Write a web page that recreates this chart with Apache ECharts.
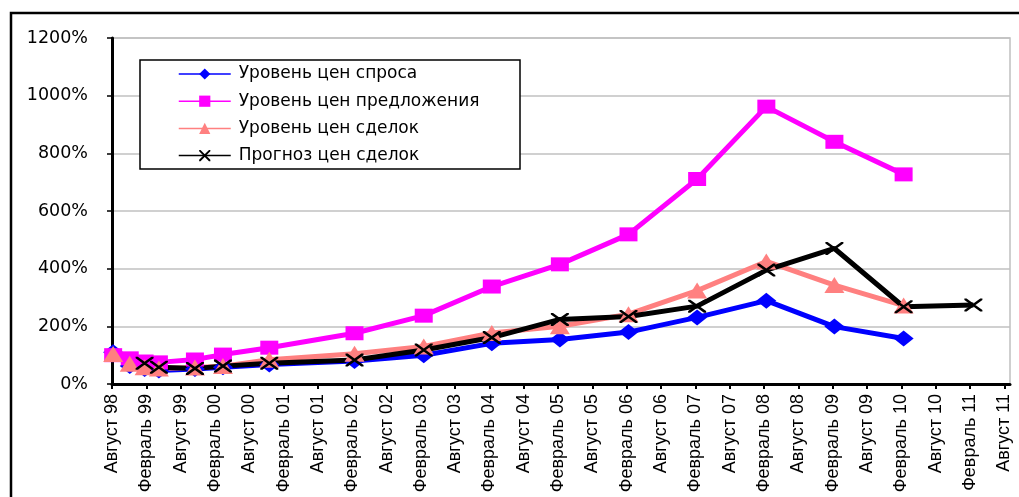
<!DOCTYPE html>
<html>
<head>
<meta charset="utf-8">
<script src="https://cdn.jsdelivr.net/npm/echarts@6/dist/echarts.min.js"></script>
<style>
  html, body { margin: 0; padding: 0; background: #ffffff; }
  #chart { width: 1019px; height: 497px; }
</style>
</head>
<body>
<div id="chart"></div>
<script>
// Semi-annual tick labels, August 1998 .. August 2011
const tickLabels = [
  'Август 98', 'Февраль 99', 'Август 99', 'Февраль 00', 'Август 00',
  'Февраль 01', 'Август 01', 'Февраль 02', 'Август 02', 'Февраль 03',
  'Август 03', 'Февраль 04', 'Август 04', 'Февраль 05', 'Август 05',
  'Февраль 06', 'Август 06', 'Февраль 07', 'Август 07', 'Февраль 08',
  'Август 08', 'Февраль 09', 'Август 09', 'Февраль 10', 'Август 10',
  'Февраль 11', 'Август 11'
];
const yTicks = [0, 200, 400, 600, 800, 1000, 1200];

// Observation dates, in months counted from August 1998
const monthsObserved = [0.2, 3.1, 5.7, 8.2, 14.5, 19.4, 27.5, 42.4, 54.5, 66.4, 78.3, 90.3, 102.3, 114.4, 126.3, 138.4];
const monthsForecast = [5.7, 8.2, 14.5, 19.4, 27.5, 42.4, 54.5, 66.4, 78.3, 90.3, 102.3, 114.4, 126.3, 138.4, 150.6];

// Price levels, % of August 1998
const demandLevel = [110, 62, 52, 47, 52, 58, 68, 80, 100, 141, 154, 180, 231, 289, 199, 158];
const offerLevel  = [100, 89, 78, 75, 85, 102, 126, 176, 237, 338, 415, 519, 711, 962, 840, 727];
const dealLevel   = [104, 70, 58, 54, 57, 62, 84, 105, 130, 177, 200, 242, 324, 425, 343, 272];
const dealForecast = [72, 58, 54, 62, 72, 83, 118, 161, 224, 234, 270, 395, 470, 268, 274];

const seriesNames = ['Уровень цен спроса', 'Уровень цен предложения', 'Уровень цен сделок', 'Прогноз цен сделок'];

const pairs = (xs, ys) => xs.map((x, i) => [x, ys[i]]);
const tickValues = tickLabels.map((_, i) => i * 6);

const crossSymbol = 'path://M0,0L1.2,0L10,8.8L10,10L8.8,10L0,1.2Z M8.8,0L10,0L10,1.2L1.2,10L0,10L0,8.8Z';

const chart = echarts.init(document.getElementById('chart'), null, { renderer: 'canvas' });

chart.setOption({
  animation: false,
  backgroundColor: '#ffffff',
  grid: {
    left: 112, top: 38, right: 9, bottom: 113,
    show: true, borderColor: '#c0c0c0', borderWidth: 1.5, backgroundColor: 'transparent'
  },
  xAxis: {
    type: 'value',
    min: 0,
    max: 157,
    axisLine: { show: true, lineStyle: { color: '#000', width: 3 } },
    axisTick: { show: true, length: 5, lineStyle: { color: '#000', width: 2 }, customValues: tickValues },
    splitLine: { show: false },
    axisLabel: {
      customValues: tickValues,
      rotate: 90,
      margin: 10,
      color: '#000',
      fontFamily: 'Liberation Sans, Arial, sans-serif',
      fontSize: 18,
      formatter: v => tickLabels[Math.round(v / 6)] || ''
    }
  },
  yAxis: {
    type: 'value',
    min: yTicks[0],
    max: yTicks[yTicks.length - 1],
    interval: 200,
    axisLine: { show: true, lineStyle: { color: '#000', width: 3 } },
    axisTick: { show: true, length: 5, lineStyle: { color: '#000', width: 1.5 } },
    splitLine: { show: true, lineStyle: { color: '#c0c0c0', width: 1.5 } },
    axisLabel: {
      margin: 24,
      color: '#000',
      fontFamily: 'DejaVu Sans, sans-serif',
      fontSize: 17.5,
      formatter: v => v + '%'
    }
  },
  legend: {
    orient: 'vertical',
    left: 140,
    top: 60,
    padding: [5, 10, 5, 38],
    itemGap: 9.2,
    itemWidth: 52,
    itemHeight: 14,
    z: 6,
    lineStyle: { width: 1.5 },
    textStyle: {
      color: '#000',
      fontFamily: 'DejaVu Sans, sans-serif',
      fontSize: 17,
      lineHeight: 18,
      padding: [0, 0, 0, 3]
    },
    data: seriesNames
  },
  graphic: [
    {
      // legend frame
      type: 'rect', z: 5, silent: true,
      shape: { x: 140, y: 60, width: 380, height: 109 },
      style: { fill: '#ffffff', stroke: '#000', lineWidth: 1.5 }
    },
    {
      // chart area frame
      type: 'rect', z: 10, silent: true,
      shape: { x: 11, y: 13, width: 1020, height: 500 },
      style: { fill: 'none', stroke: '#000', lineWidth: 2.5 }
    }
  ],
  series: [
    {
      name: seriesNames[0], type: 'line',
      data: pairs(monthsObserved, demandLevel),
      color: '#0000ff',
      lineStyle: { width: 5 },
      symbol: 'diamond', symbolSize: [20, 16],
      itemStyle: { color: '#0000ff' }
    },
    {
      name: seriesNames[1], type: 'line',
      data: pairs(monthsObserved, offerLevel),
      color: '#ff00ff',
      lineStyle: { width: 5 },
      symbol: 'rect', symbolSize: [18, 14],
      itemStyle: { color: '#ff00ff' }
    },
    {
      name: seriesNames[2], type: 'line',
      data: pairs(monthsObserved, dealLevel),
      color: '#ff8080',
      lineStyle: { width: 5 },
      symbol: 'triangle', symbolSize: [20, 16],
      itemStyle: { color: '#ff8080' }
    },
    {
      name: seriesNames[3], type: 'line',
      data: pairs(monthsForecast, dealForecast),
      color: '#000000',
      lineStyle: { width: 5 },
      symbol: crossSymbol, symbolSize: [18, 13],
      itemStyle: { color: '#000000' }
    }
  ]
});
</script>
</body>
</html>
